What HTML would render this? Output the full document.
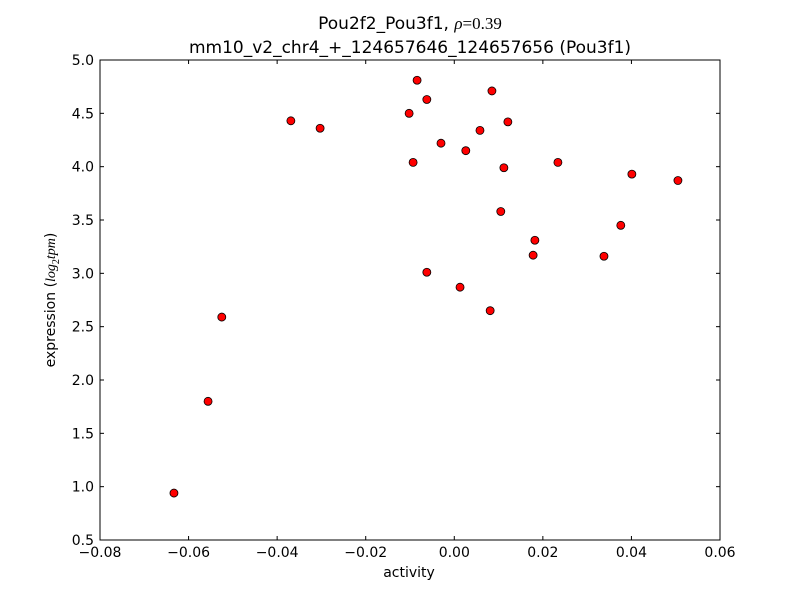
<!DOCTYPE html>
<html><head><meta charset="utf-8"><style>
body{margin:0;background:#fff;}
svg{display:block;font-family:"DejaVu Sans","Liberation Sans",sans-serif;}
</style></head><body>
<svg id="chart" width="800" height="600">
<rect width="800" height="600" fill="#fff"/>
<text x="410" y="29" font-size="17" text-anchor="middle">Pou2f2_Pou3f1, <tspan font-family="Liberation Serif,serif" font-style="italic">ρ</tspan><tspan font-family="Liberation Serif,serif">=0.39</tspan></text>
<text x="410" y="53" font-size="17" text-anchor="middle">mm10_v2_chr4_+_124657646_124657656 (Pou3f1)</text>
<text x="409" y="577" font-size="14" text-anchor="middle">activity</text>
<text transform="translate(55,300) rotate(-90)" font-size="14" text-anchor="middle">expression (<tspan font-family="Liberation Serif,serif" font-style="italic">log</tspan><tspan font-family="Liberation Serif,serif" font-size="10" dy="4">2</tspan><tspan font-family="Liberation Serif,serif" font-style="italic" dy="-4">tpm</tspan>)</text>
<g id="ticks"></g>
<g id="points"></g>
<rect x="100" y="60" width="620" height="480" fill="none" stroke="#000" stroke-width="1"/>
</svg>
<script>
const xVals=[-0.0633,-0.0556,-0.0525,-0.0369,-0.0303,-0.0102,-0.0084,-0.0062,-0.0093,-0.0062,-0.0030,0.0013,0.0026,0.0058,0.0085,0.0121,0.0112,0.0105,0.0081,0.0182,0.0178,0.0234,0.0338,0.0376,0.0401,0.0505];
const yVals=[0.94,1.80,2.59,4.43,4.36,4.50,4.81,4.63,4.04,3.01,4.22,2.87,4.15,4.34,4.71,4.42,3.99,3.58,2.65,3.31,3.17,4.04,3.16,3.45,3.93,3.87];
const xTicks=[-0.08,-0.06,-0.04,-0.02,0.00,0.02,0.04,0.06];
const xTickLabels=["\u22120.08","\u22120.06","\u22120.04","\u22120.02","0.00","0.02","0.04","0.06"];
const yTicks=[0.5,1.0,1.5,2.0,2.5,3.0,3.5,4.0,4.5,5.0];
const yTickLabels=["0.5","1.0","1.5","2.0","2.5","3.0","3.5","4.0","4.5","5.0"];
const NS="http://www.w3.org/2000/svg";
const sx=v=>100+(v+0.08)/0.14*620;
const sy=v=>540-(v-0.5)/4.5*480;
const tg=document.getElementById('ticks'),pg=document.getElementById('points');
function mk(t,a,p){const e=document.createElementNS(NS,t);for(const k in a)e.setAttribute(k,a[k]);p.appendChild(e);return e;}
xTicks.forEach((v,i)=>{const x=sx(v);
 mk('line',{x1:x,x2:x,y1:540,y2:536,stroke:'#000'},tg);
 mk('line',{x1:x,x2:x,y1:60,y2:64,stroke:'#000'},tg);
 const t=mk('text',{x:x,y:557,'font-size':14,'text-anchor':'middle'},tg);t.textContent=xTickLabels[i];
 
 });
yTicks.forEach((v,i)=>{const y=sy(v);
 mk('line',{x1:100,x2:104,y1:y,y2:y,stroke:'#000'},tg);
 mk('line',{x1:716,x2:720,y1:y,y2:y,stroke:'#000'},tg);
 const t=mk('text',{x:94,y:y+5,'font-size':14,'text-anchor':'end'},tg);t.textContent=yTickLabels[i];
 
 });
xVals.forEach((v,i)=>{const c=mk('circle',{cx:sx(v),cy:sy(yVals[i]),r:4,fill:'#ff0000',stroke:'#000','stroke-width':0.8},pg);
 
 });
</script>
</body></html>
